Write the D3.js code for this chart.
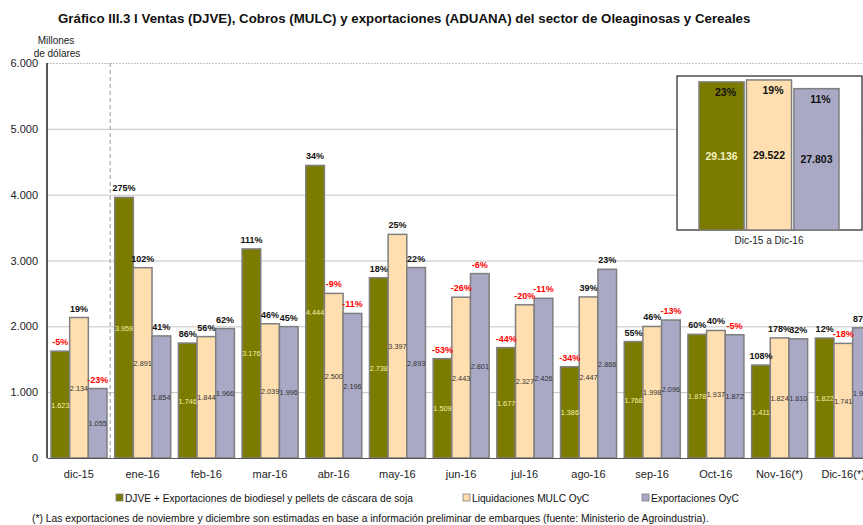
<!DOCTYPE html>
<html>
<head>
<meta charset="utf-8">
<script src="https://cdnjs.cloudflare.com/ajax/libs/d3/7.8.5/d3.min.js"></script>
<style>
  body { margin: 0; background: #fff; }
  svg { font-family: "Liberation Sans", Arial, sans-serif; display: block; }
</style>
</head>
<body>
<div id="viz"></div>
<script>
// data
let months = ['dic-15', 'ene-16', 'feb-16', 'mar-16', 'abr-16', 'may-16', 'jun-16',
  'jul-16', 'ago-16', 'sep-16', 'Oct-16', 'Nov-16(*)', 'Dic-16(*)']
let seriesNames = ['DJVE + Exportaciones de biodiesel y pellets de cáscara de soja',
  'Liquidaciones MULC OyC', 'Exportaciones OyC']
let djve = [1623, 3959, 1746, 3176, 4444, 2738, 1509, 1677, 1386, 1768, 1878, 1411, 1822]
let mulc = [2134, 2891, 1844, 2039, 2500, 3397, 2443, 2327, 2447, 1998, 1937, 1824, 1741]
let expo = [1055, 1854, 1966, 1996, 2196, 2893, 2801, 2426, 2866, 2096, 1872, 1810, 1977]
let djvePct = [-5, 275, 86, 111, 34, 18, -53, -44, -34, 55, 60, 108, 12]
let mulcPct = [19, 102, 56, 46, -9, 25, -26, -20, 39, 46, 40, 178, -18]
let expoPct = [-23, 41, 62, 45, -11, 22, -6, -11, 23, -13, -5, 32, 87]
let yTicks = [0, 1000, 2000, 3000, 4000, 5000, 6000]

// accumulated dic-15 a dic-16
let totalLabel = 'Dic-15 a Dic-16'
let totals = [29136, 29522, 27803]
let totalPct = [23, 19, 11]

let colors = ['#7b7b00', '#ffdfb0', '#a9a9c6']
let valueColors = ['#f2f0a8', '#333', '#333']

let es = d3.formatLocale({ decimal: ',', thousands: '.', grouping: [3], currency: ['$', ''] })
let fmt = es.format(',d')

let svg = d3.select('#viz')
  .append('svg')
  .attr('width', 863)
  .attr('height', 525)

svg.append('text')
  .attr('x', 58)
  .attr('y', 23)
  .attr('font-size', 13.3)
  .attr('font-weight', 'bold')
  .attr('fill', '#111')
  .text('Gráfico III.3 l Ventas (DJVE), Cobros (MULC) y exportaciones (ADUANA) del sector de Oleaginosas y Cereales')

svg.append('text').attr('x', 56).attr('y', 44).attr('font-size', 10)
  .attr('text-anchor', 'middle').attr('fill', '#222').text('Millones')
svg.append('text').attr('x', 57).attr('y', 57).attr('font-size', 10)
  .attr('text-anchor', 'middle').attr('fill', '#222').text('de dólares')

let x0 = d3.scaleBand().domain(months).range([47, 875])
let x1 = d3.scaleBand().domain([0, 1, 2]).range([4, 60])
let y = d3.scaleLinear().domain([0, 6000]).range([458, 63])

// gridlines
svg.append('g')
  .attr('transform', 'translate(47,0)')
  .call(d3.axisLeft(y).tickValues(yTicks).tickSize(-830).tickFormat(''))
  .call(g => g.select('.domain').remove())
  .call(g => g.selectAll('line').attr('stroke', '#c4c4c4').attr('stroke-width', 1))
  .call(g => g.selectAll('line').filter(d => d === 6000).attr('stroke-dasharray', '2,1'))

// y labels
svg.append('g')
  .attr('transform', 'translate(47,0)')
  .call(d3.axisLeft(y).tickValues(yTicks).tickSize(0).tickPadding(9).tickFormat(fmt))
  .call(g => g.select('.domain').remove())
  .call(g => g.selectAll('text').attr('font-size', 11).attr('fill', '#222')
    .attr('font-family', '"Liberation Sans", Arial, sans-serif'))

// dashed separator after dic-15
svg.append('line')
  .attr('x1', x0('ene-16') - 0.5).attr('x2', x0('ene-16') - 0.5)
  .attr('y1', y(6000)).attr('y2', y(0))
  .attr('stroke', '#999').attr('stroke-dasharray', '4,3')

let rows = months.map((m, i) => ({
  month: m,
  vals: [djve[i], mulc[i], expo[i]],
  pcts: [djvePct[i], mulcPct[i], expoPct[i]]
}))

let groups = svg.append('g').selectAll('g')
  .data(rows)
  .join('g')
  .attr('transform', d => `translate(${x0(d.month)},0)`)

groups.selectAll('rect')
  .data(d => d.vals)
  .join('rect')
  .attr('x', (d, j) => x1(j))
  .attr('y', d => y(d))
  .attr('width', x1.bandwidth())
  .attr('height', d => y(0) - y(d))
  .attr('fill', (d, j) => colors[j])
  .attr('stroke', '#7f7f7f')
  .attr('stroke-width', 1.5)

groups.selectAll('text.val')
  .data(d => d.vals)
  .join('text')
  .attr('class', 'val')
  .attr('x', (d, j) => x1(j) + x1.bandwidth() / 2)
  .attr('y', d => (y(d) + y(0)) / 2 + 3)
  .attr('text-anchor', 'middle')
  .attr('font-size', 7.3)
  .attr('fill', (d, j) => valueColors[j])
  .text(d => fmt(d))

groups.selectAll('text.pct')
  .data(d => d.vals.map((v, j) => ({ v: v, p: d.pcts[j] })))
  .join('text')
  .attr('class', 'pct')
  .attr('x', (d, j) => x1(j) + x1.bandwidth() / 2)
  .attr('y', d => y(d.v) - 6)
  .attr('text-anchor', 'middle')
  .attr('font-size', 9)
  .attr('font-weight', 'bold')
  .attr('fill', d => d.p < 0 ? '#ff0000' : '#111')
  .text(d => d.p + '%')

// axes lines
svg.append('line')
  .attr('x1', 47).attr('x2', 47).attr('y1', y(6000)).attr('y2', y(0))
  .attr('stroke', '#222').attr('stroke-width', 1.5)

svg.append('g')
  .attr('transform', `translate(0,${y(0)})`)
  .call(d3.axisBottom(x0).tickSize(0).tickPadding(12))
  .call(g => g.select('.domain').attr('stroke', '#555').attr('stroke-width', 1.2))
  .call(g => g.selectAll('text').attr('font-size', 11).attr('fill', '#222')
    .attr('font-family', '"Liberation Sans", Arial, sans-serif'))

// inset box with accumulated totals
let inset = svg.append('g')
let ix = d3.scaleBand().domain([0, 1, 2]).range([699, 839]).paddingInner(0.05)
let iy = d3.scaleLinear().domain([0, 30000]).range([230, 77.5])

inset.append('rect')
  .attr('x', 677).attr('y', 76).attr('width', 185).attr('height', 154)
  .attr('fill', '#fff').attr('stroke', '#222').attr('stroke-width', 1.2)

inset.selectAll('rect.tot')
  .data(totals)
  .join('rect')
  .attr('class', 'tot')
  .attr('x', (d, j) => ix(j))
  .attr('y', d => iy(d))
  .attr('width', ix.bandwidth())
  .attr('height', d => iy(0) - iy(d))
  .attr('fill', (d, j) => colors[j])
  .attr('stroke', '#7f7f7f')
  .attr('stroke-width', 1.5)

inset.selectAll('text.totv')
  .data(totals)
  .join('text')
  .attr('class', 'totv')
  .attr('x', (d, j) => ix(j) + ix.bandwidth() / 2)
  .attr('y', d => (iy(d) + iy(0)) / 2 + 4)
  .attr('text-anchor', 'middle')
  .attr('font-size', 10.5)
  .attr('font-weight', 'bold')
  .attr('fill', (d, j) => j === 0 ? '#f4f2c0' : '#111')
  .text(d => fmt(d))

inset.selectAll('text.totp')
  .data(totals)
  .join('text')
  .attr('class', 'totp')
  .attr('x', (d, j) => ix(j) + ix.bandwidth() / 2 + 4)
  .attr('y', d => iy(d) + 14)
  .attr('text-anchor', 'middle')
  .attr('font-size', 10.5)
  .attr('font-weight', 'bold')
  .attr('fill', '#111')
  .text((d, j) => totalPct[j] + '%')

inset.append('text')
  .attr('x', 769).attr('y', 244)
  .attr('text-anchor', 'middle')
  .attr('font-size', 10)
  .attr('fill', '#222')
  .text(totalLabel)

// legend
let legendX = [116, 463, 642]
let legend = svg.append('g').selectAll('g')
  .data(seriesNames)
  .join('g')
  .attr('transform', (d, j) => `translate(${legendX[j]},494)`)

legend.append('rect')
  .attr('width', 7).attr('height', 7)
  .attr('fill', (d, j) => colors[j])
  .attr('stroke', '#7f7f7f').attr('stroke-width', 0.8)

legend.append('text')
  .attr('x', 9).attr('y', 7.5)
  .attr('font-size', 10.2)
  .attr('fill', '#111')
  .text(d => d)

svg.append('text')
  .attr('x', 32).attr('y', 522)
  .attr('font-size', 10.3)
  .attr('fill', '#111')
  .text('(*) Las exportaciones de noviembre y diciembre son estimadas en base a información preliminar de embarques (fuente: Ministerio de Agroindustria).')
</script>
</body>
</html>
